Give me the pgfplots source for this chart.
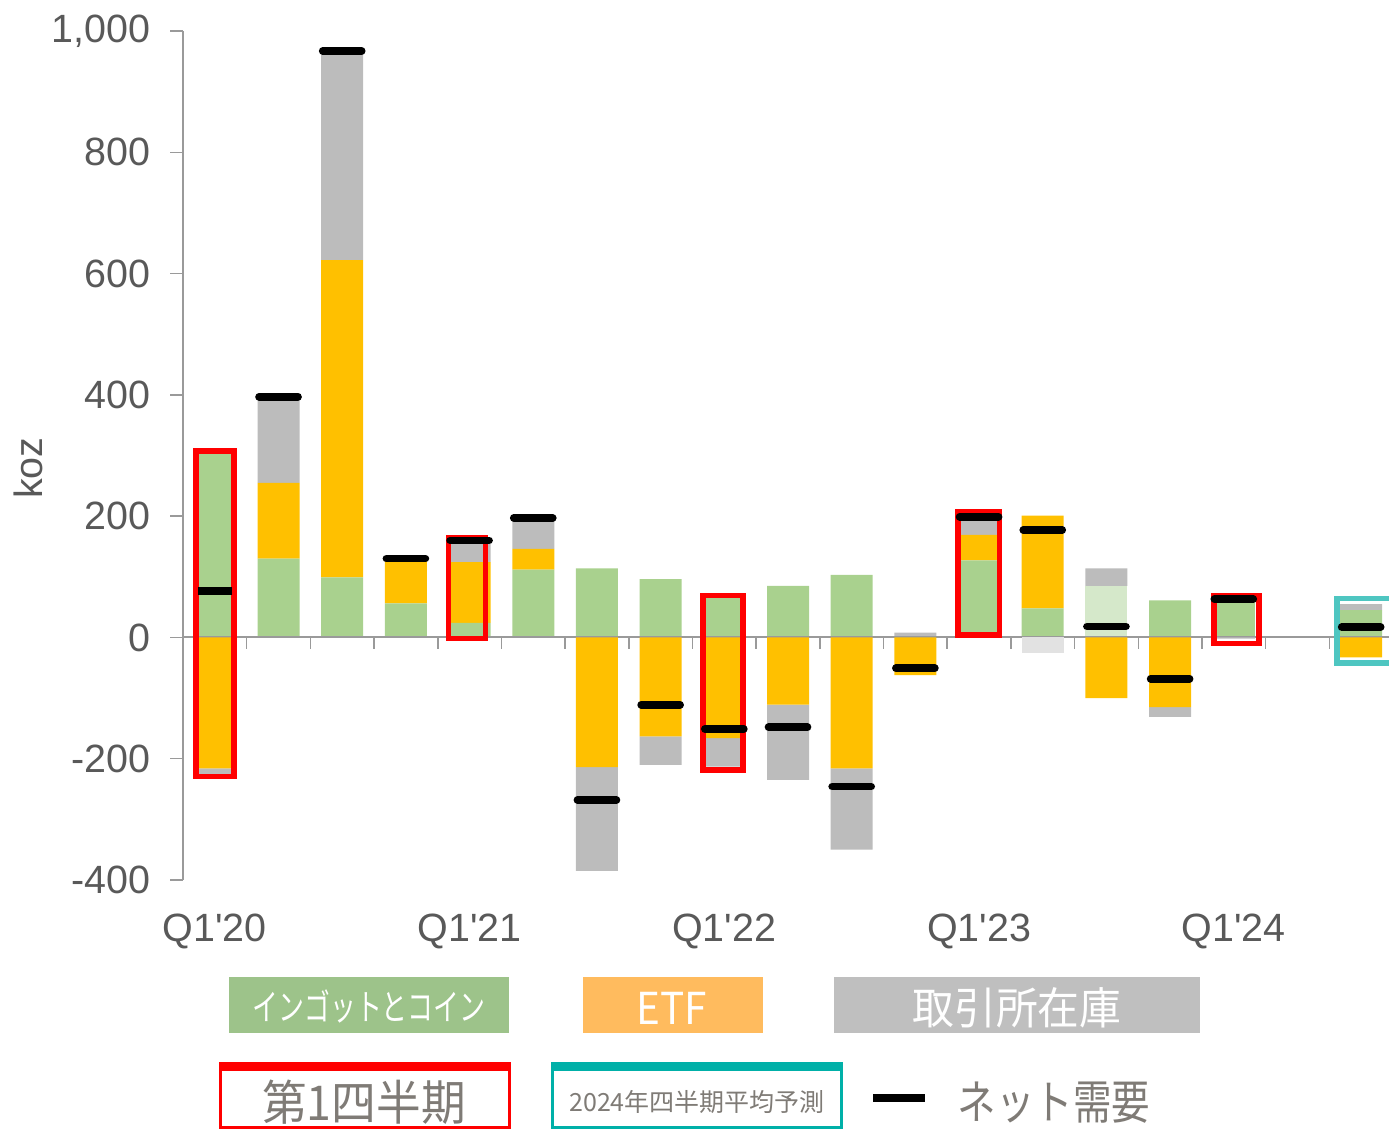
\documentclass[border=0pt]{standalone}
\usepackage{fontspec}
\setmainfont{Liberation Sans}
\newfontfamily\jp{Noto Sans CJK JP}
\usepackage{graphicx}
\usepackage{pgfplots}
\usepackage{pgfplotstable}
\pgfplotsset{compat=1.18}

\definecolor{cGreen}{HTML}{A9D18E}
\definecolor{cLGreen}{HTML}{D5E8CA}
\definecolor{cGold}{HTML}{FFC000}
\definecolor{cGrey}{HTML}{BCBCBC}
\definecolor{cLGrey}{HTML}{E2E2E2}
\definecolor{axisgrey}{HTML}{9A9A9A}
\definecolor{tickgrey}{HTML}{595959}
\definecolor{lgGreen}{HTML}{9DC38A}
\definecolor{lgOrange}{HTML}{FFBB5E}
\definecolor{lgGrey}{HTML}{BFBFBF}
\definecolor{lgText}{HTML}{7F7B76}
\definecolor{cTeal}{HTML}{00B0A8}
\definecolor{cCyan}{HTML}{4EC6C1}

% bar segments (koz): positive stack and negative stack
\pgfplotstableread{
x  green lgreen etfp greyp etfn greyn lgreyn
0  304   0      0    0     -216 -10   0
1  130   0      125  142   0    0     0
2  99    0      523  345   0    0     0
3  56    0      70   4     0    0     0
4  24    0      100  35    0    0     0
5  112   0      34   50    0    0     0
6  114   0      0    0     -214 -171  0
7  96    0      0    0     -163 -47   0
8  65    0      0    0     -166 -47   0
9  85    0      0    0     -111 -124  0
10 103   0      0    0     -216 -134  0
11 0     0      0    8     -62  0     0
12 127   0      42   28    0    0     0
13 48    0      153  0     0    0     -25
14 0     85     0    29    -100 0     0
15 61    0      0    0     -115 -16   0
16 63    0      0    0     0    -2    0
17 0     0      0    0     0    0     0
18 45    0      0    10    -33  0     0
}\bars

\pgfplotstableread{
x  net
1  397
2  967
3  130
4  160
5  197
6  -268
7  -111
8  -151
9  -148
10 -246
11 -51
12 199
13 177
14 18
15 -68
16 63
18 17
}\net

\newcommand\ticksize{\fontsize{14.2}{16}\selectfont}

\pgfplotsset{
  common/.style={
    at={(65.88pt,89.64pt)}, anchor=south west,
    scale only axis, width=435.6pt, height=305.64pt,
    xmin=-0.5, xmax=18.5, ymin=-400, ymax=1000, clip=false},
  hidden/.style={common, hide axis},
}

\begin{document}
\begin{tikzpicture}
\useasboundingbox (0,0) rectangle (500.04pt,406.44pt);

% ---------- axis A: frame + positive stack
\begin{axis}[
  common,
  axis y line*=left, axis x line*=bottom,
  x axis line style={draw=none},
  y axis line style={draw=axisgrey, line width=0.55pt},
  ytick={-400,-200,0,200,400,600,800,1000},
  yticklabels={-400,-200,0,200,400,600,800,{1,000}},
  xtick={0,4,8,12,16},
  xticklabels={Q1\textquotesingle20,Q1\textquotesingle21,Q1\textquotesingle22,Q1\textquotesingle23,Q1\textquotesingle24},
  xtick style={draw=none},
  ytick style={draw=axisgrey, line width=0.55pt},
  tick align=outside, major tick length=4.68pt,
  tick label style={font=\ticksize, text=tickgrey},
  yticklabel style={anchor=east, xshift=-3.5pt},
  xticklabel style={anchor=north, yshift=-4pt},
  ylabel={koz},
  ylabel style={at={(axis description cs:-0.128,0.485)}, anchor=center, font=\ticksize, text=tickgrey},
  ybar stacked, bar width=15.12pt,
]
\draw[axisgrey, line width=0.75pt] (axis cs:-0.5,0) -- (axis cs:18.5,0);
\pgfplotsinvokeforeach{0.5,1.5,...,17.5}{
  \draw[axisgrey, line width=0.55pt] (axis cs:#1,0) -- ++(0pt,-4.2pt);
}
\addplot[fill=cGreen, draw=none] table[x=x,y=green]{\bars};
\addplot[fill=cLGreen, draw=none] table[x=x,y=lgreen]{\bars};
\addplot[fill=cGold, draw=none] table[x=x,y=etfp]{\bars};
\addplot[fill=cGrey, draw=none] table[x=x,y=greyp]{\bars};
\end{axis}

% ---------- axis B: negative stack
\begin{axis}[hidden, ybar stacked, bar width=15.12pt]
\addplot[fill=cGold, draw=none] table[x=x,y=etfn]{\bars};
\addplot[fill=cGrey, draw=none] table[x=x,y=greyn]{\bars};
\addplot[fill=cLGrey, draw=none] table[x=x,y=lgreyn]{\bars};
\end{axis}

% ---------- axis C: net demand and highlight boxes
\begin{axis}[hidden]
\addplot[only marks, mark=-, mark size=7.0pt,
  mark options={line width=2.8pt, line cap=round, draw=black}] table[x=x,y=net]{\net};
\addplot[only marks, mark=-, mark size=6.1pt,
  mark options={line width=2.8pt, line cap=butt, draw=black}] coordinates {(0,77)};
\draw[red, line width=2pt] (axis cs:-0.296,307.7) rectangle (axis cs:0.301,-229.6);
\draw[red, line width=2pt] (axis cs:3.669,164.3) rectangle (axis cs:4.250,-1.6);
\draw[red, line width=2pt] (axis cs:7.666,69.2) rectangle (axis cs:8.294,-218.6);
\draw[red, line width=2pt] (axis cs:11.666,206.7) rectangle (axis cs:12.319,4.0);
\draw[red, line width=2pt] (axis cs:15.690,69.2) rectangle (axis cs:16.392,-9.9);
\draw[cCyan, line width=2.1pt] (axis cs:17.622,64.3) rectangle (axis cs:18.6,-41.7);
\end{axis}

% ---------- legend (pixel coordinates, y downward)
\begin{scope}[x=0.36pt, y=-0.36pt, yshift=406.44pt]
\fill[lgGreen] (229,977) rectangle (509,1033);
\node[text=white, inner sep=0] at (369,1006) {\jp\fontsize{12.96}{13}\selectfont\scalebox{0.72}[1]{インゴットとコイン}};
\fill[lgOrange] (583,977) rectangle (763,1033);
\node[text=white, inner sep=0] at (672,1008) {\jp\fontsize{15.84}{16}\selectfont\scalebox{0.92}[1]{ETF}};
\fill[lgGrey] (834,977) rectangle (1200,1033);
\node[text=white, inner sep=0] at (1017,1008) {\jp\fontsize{15.84}{16}\selectfont\scalebox{0.95}[1]{取引所在庫}};

\draw[red, line width=1.2pt] (220.5,1064) rectangle (509.5,1127.5);
\fill[red] (219,1062) rectangle (511,1071);
\node[text=lgText, inner sep=0] at (364,1102) {\jp\fontsize{17.28}{18}\selectfont\scalebox{0.93}[1]{第1四半期}};

\draw[cTeal, line width=1.2pt] (552.5,1064) rectangle (841.5,1127.5);
\fill[cTeal] (551,1062) rectangle (843,1071);
\node[text=lgText, inner sep=0] at (697,1102) {\jp\fontsize{9}{10}\selectfont 2024年四半期平均予測};

\draw[black, line width=2.8pt] (873,1098) -- (925,1098);
\node[text=lgText, inner sep=0] at (1054,1103) {\jp\fontsize{16.9}{17}\selectfont\scalebox{0.82}[1]{ネット需要}};
\end{scope}
\end{tikzpicture}
\end{document}
